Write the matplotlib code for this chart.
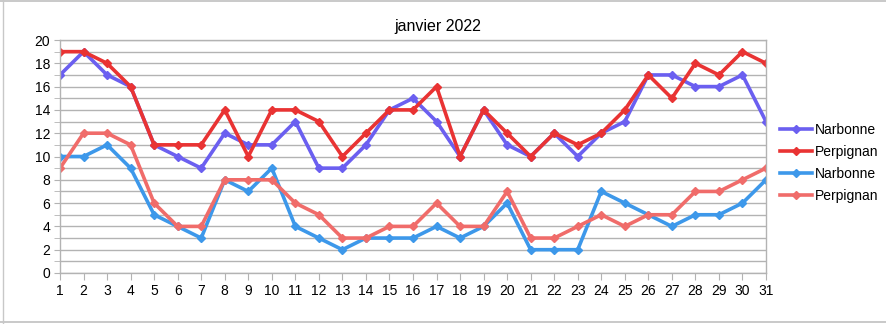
import numpy as np
import matplotlib
matplotlib.use("Agg")
import matplotlib.pyplot as plt
from matplotlib.lines import Line2D

plt.rcParams['font.family'] = ['Liberation Sans', 'DejaVu Sans']

# days of january
jours = list(range(1, 32))

# max temperatures
narbonne_max = [17, 19, 17, 16, 11, 10, 9, 12, 11, 11, 13, 9, 9, 11, 14, 15, 13, 10, 14, 11, 10, 12, 10, 12, 13, 17, 17, 16, 16, 17, 13]
perpignan_max = [19, 19, 18, 16, 11, 11, 11, 14, 10, 14, 14, 13, 10, 12, 14, 14, 16, 10, 14, 12, 10, 12, 11, 12, 14, 17, 15, 18, 17, 19, 18]

# min temperatures
narbonne_min = [10, 10, 11, 9, 5, 4, 3, 8, 7, 9, 4, 3, 2, 3, 3, 3, 4, 3, 4, 6, 2, 2, 2, 7, 6, 5, 4, 5, 5, 6, 8]
perpignan_min = [9, 12, 12, 11, 6, 4, 4, 8, 8, 8, 6, 5, 3, 3, 4, 4, 6, 4, 4, 7, 3, 3, 4, 5, 4, 5, 5, 7, 7, 8, 9]

series = [
    ("Narbonne", narbonne_max, "#6b5ff0"),
    ("Perpignan", perpignan_max, "#e93333"),
    ("Narbonne", narbonne_min, "#3d98ea"),
    ("Perpignan", perpignan_min, "#f06c6a"),
]

fig = plt.figure(figsize=(8.87, 3.24), dpi=100)

# spreadsheet cell lines behind the chart
fig.add_artist(Line2D([0, 1], [0.996, 0.996], color="#c0c0c0", lw=1.2))
fig.add_artist(Line2D([0, 1], [0.006, 0.006], color="#c0c0c0", lw=1.2))
fig.add_artist(Line2D([0.003, 0.003], [0, 1], color="#c8c8c8", lw=1))

ax = fig.add_axes([60 / 887, 1 - 273 / 324, 706 / 887, 233 / 324])

for nom, vals, col in series:
    ax.plot(jours, vals, color=col, lw=2.6, marker="D", markersize=4,
            label=nom, solid_joinstyle="miter")

ax.set_xlim(1, 31)
ax.set_ylim(0, 20)
ax.set_xticks(jours)
ax.set_yticks(np.arange(0, 21, 2))
ax.set_yticks(np.arange(0, 21, 1), minor=True)
ax.grid(True, which="both", axis="y", color="#b3b3b3", lw=1)
ax.set_axisbelow(True)
ax.tick_params(axis="x", length=5, color="#b3b3b3", labelsize=10, pad=3)
ax.tick_params(axis="y", which="both", length=4, color="#b3b3b3", labelsize=10, pad=3)

for s in ax.spines.values():
    s.set_color("#b3b3b3")
    s.set_linewidth(1)

# title centred over the whole chart, legend included
fig.text(438 / 887, 1 - 27 / 324, "janvier 2022", fontsize=11.5,
         ha="center", va="center")

fig.legend(loc="upper left", bbox_to_anchor=(780 / 887, 1 - 123 / 324),
           frameon=False, fontsize=10, handlelength=2.3, handletextpad=0.2,
           labelspacing=0.58, borderaxespad=0, borderpad=0)

fig.savefig("out.png", dpi=100)
